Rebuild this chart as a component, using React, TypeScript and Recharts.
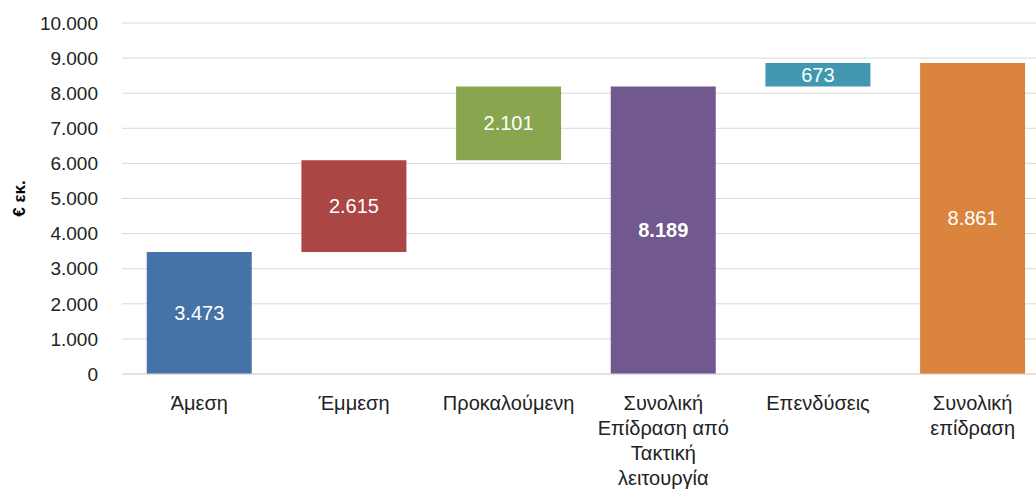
import React from 'react';
import { BarChart, Bar, XAxis, YAxis, CartesianGrid, Cell, LabelList } from 'recharts';

const categories = [
  'Άμεση',
  'Έμμεση',
  'Προκαλούμενη',
  'Συνολική\nΕπίδραση από\nΤακτική\nλειτουργία',
  'Επενδύσεις',
  'Συνολική\nεπίδραση',
];
const values = [3473, 2615, 2101, 8189, 673, 8861];
const isTotal = [false, false, false, true, false, true];
const colors = ['#4572A7', '#AA4643', '#89A54E', '#71588F', '#4198AF', '#DB843D'];
const yTicks = [0, 1000, 2000, 3000, 4000, 5000, 6000, 7000, 8000, 9000, 10000];

const FONT = '"Liberation Sans", Arial, sans-serif';

const fmt = (v: number) => v.toString().replace(/\B(?=(\d{3})+(?!\d))/g, '.');

// running total gives the invisible base of each floating bar
let running = 0;
const data = categories.map((name, i) => {
  const base = isTotal[i] ? 0 : running;
  running = isTotal[i] ? values[i] : running + values[i];
  return { name, base, value: values[i] };
});

const XTick = (props: any) => {
  const { x, y, payload } = props;
  const lines = String(payload.value).split('\n');
  return (
    <text x={x} y={y} textAnchor="middle" fill="#222" fontSize={20} fontFamily={FONT}>
      {lines.map((l, i) => (
        <tspan key={i} x={x} dy={i === 0 ? 28 : 25}>
          {l}
        </tspan>
      ))}
    </text>
  );
};

const ValueLabel = (props: any) => {
  const { x, y, width, height, index } = props;
  return (
    <text
      x={x + width / 2}
      y={y + height / 2}
      textAnchor="middle"
      dominantBaseline="central"
      fill="#fff"
      fontSize={20}
      fontWeight={index === 3 ? 'bold' : 'normal'}
      fontFamily={FONT}
    >
      {fmt(values[index])}
    </text>
  );
};

export default function App() {
  return (
    <div style={{ position: 'absolute', left: 0, top: 0, width: 1036, height: 489, overflow: 'hidden', background: '#fff' }}>
      <BarChart
        width={1050}
        height={489}
        data={data}
        margin={{ top: 23, right: 0, left: 0, bottom: 5 }}
        barCategoryGap="16%"
      >
        <CartesianGrid vertical={false} stroke="#d9d9d9" />
        <XAxis
          dataKey="name"
          interval={0}
          tickLine={false}
          axisLine={{ stroke: '#d9d9d9' }}
          tick={<XTick />}
          height={110}
        />
        <YAxis
          width={122}
          domain={[0, 10000]}
          ticks={yTicks}
          tickFormatter={fmt}
          axisLine={false}
          tickLine={false}
          tickMargin={18}
          tick={{ fill: '#222', fontSize: 19, fontFamily: FONT }}
          label={{
            value: '€ εκ.',
            angle: -90,
            position: 'insideLeft',
            offset: 19,
            style: { fill: '#000', fontSize: 17, fontWeight: 'bold', fontFamily: FONT, textAnchor: 'middle' },
          }}
        />
        <Bar dataKey="base" stackId="w" fill="transparent" isAnimationActive={false} />
        <Bar dataKey="value" stackId="w" isAnimationActive={false}>
          {data.map((_, i) => (
            <Cell key={i} fill={colors[i]} />
          ))}
          <LabelList dataKey="value" content={<ValueLabel />} />
        </Bar>
      </BarChart>
    </div>
  );
}
